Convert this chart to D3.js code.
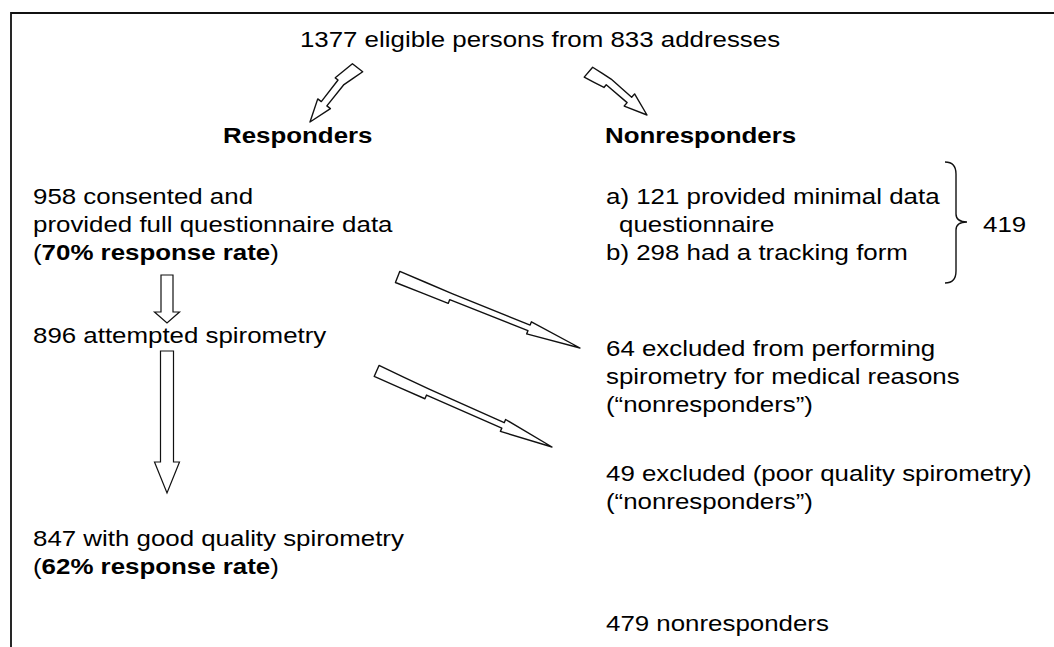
<!DOCTYPE html>
<html>
<head>
<meta charset="utf-8">
<script src="https://cdn.jsdelivr.net/npm/d3@7/dist/d3.min.js"></script>
<style>
  html, body { margin: 0; padding: 0; background: #fff; }
  svg { display: block; }
  text { font-family: "Liberation Sans", Arial, Helvetica, sans-serif; fill: #000; }
</style>
</head>
<body>
<script>
// ---------------- data ----------------
const population = [1377, 833];                 // eligible persons, addresses
const headers = ["Responders", "Nonresponders"];
const responderCounts = [958, 896, 847];        // consented, attempted spirometry, good quality
const responseRates = [70, 62];                 // % response rate
const nonresponderCounts = [121, 298, 64, 49];  // minimal data, tracking form, medical excl., poor quality
const nonresponderTotals = [419, 479];

// ---------------- layout ----------------
const W = 1054, H = 647;
const FONT = 22.5, SX = 1.15;
const rowY = d3.scaleLinear().domain([0, 1]).range([204, 232]);   // text line slots (28px)
const colX = d3.scaleOrdinal()
  .domain(["left", "right", "center", "total", "hdrL", "hdrR", "indent"])
  .range([33, 606, 540, 983, 223, 605, 619]);

const B = (t) => ({ t, b: true });
const N = (t) => ({ t, b: false });

const blocks = [
  { col: "center", row: -5.6, anchor: "middle",
    lines: [[N(`${population[0]} eligible persons from ${population[1]} addresses`)]] },
  { col: "hdrL", row: -2.18, lines: [[B(headers[0])]] },
  { col: "hdrR", row: -2.18, lines: [[B(headers[1])]] },
  { col: "left", row: 0, lines: [
      [N(`${responderCounts[0]} consented and`)],
      [N("provided full questionnaire data")],
      [N("("), B(`${responseRates[0]}% response rate`), N(")")]] },
  { col: "right", row: 0, lines: [[N(`a) ${nonresponderCounts[0]} provided minimal data`)]] },
  { col: "indent", row: 1, lines: [[N("questionnaire")]] },
  { col: "right", row: 2, lines: [[N(`b) ${nonresponderCounts[1]} had a tracking form`)]] },
  { col: "total", row: 1, lines: [[N(`${nonresponderTotals[0]}`)]] },
  { col: "left", row: 4.95, lines: [[N(`${responderCounts[1]} attempted spirometry`)]] },
  { col: "right", row: 5.43, lines: [
      [N(`${nonresponderCounts[2]} excluded from performing`)],
      [N("spirometry for medical reasons")],
      [N("(\u201cnonresponders\u201d)")]] },
  { col: "right", row: 9.89, lines: [
      [N(`${nonresponderCounts[3]} excluded (poor quality spirometry)`)],
      [N("(\u201cnonresponders\u201d)")]] },
  { col: "left", row: 12.2, lines: [
      [N(`${responderCounts[2]} with good quality spirometry`)],
      [N("("), B(`${responseRates[1]}% response rate`), N(")")]] },
  { col: "right", row: 15.25, lines: [[N(`${nonresponderTotals[1]} nonresponders`)]] }
];

// notched arrows: tail -> tip (px); bend bends the tail part sideways
const notched = [
  { tail: [354, 65], tip: [310, 122], uT: 6, s: 3.5, h: 8, lT: 7, notch: 0.3, head: 0.68, bend: -5 },
  { tail: [592, 68], tip: [647, 115], uT: 6, s: 3.5, h: 8, lT: 7, notch: 0.3, head: 0.68, bend: 5 },
  { tail: [398, 276], tip: [580, 348], uT: 5, s: 3, h: 6.5, lT: 7, notch: 0.29, head: 0.72, bend: 0 },
  { tail: [377, 370], tip: [552, 447], uT: 5, s: 3, h: 6.5, lT: 7, notch: 0.29, head: 0.72, bend: 0 }
];
// straight block arrows pointing down
const downArrows = [
  { x: 167, y0: 275, y1: 323, sw: 6, hw: 12.5, hl: 11 },
  { x: 167, y0: 351, y1: 493, sw: 6.5, hw: 12.5, hl: 31 }
];

// ---------------- drawing ----------------
const svg = d3.select("body").append("svg").attr("width", W).attr("height", H);
svg.append("rect").attr("width", W).attr("height", H).attr("fill", "#fff");

// frame (left and top border only)
svg.append("path")
  .attr("d", d3.line()([[11, H], [11, 13], [W, 13]]))
  .attr("fill", "none").attr("stroke", "#111").attr("stroke-width", 1.8);

// texts
blocks.forEach(bk => {
  bk.lines.forEach((parts, i) => {
    const g = svg.append("g")
      .attr("transform", `translate(${colX(bk.col)},${rowY(bk.row + i)}) scale(${SX},1)`);
    const t = g.append("text")
      .attr("font-size", FONT)
      .attr("text-anchor", bk.anchor || "start");
    parts.forEach(p => t.append("tspan").text(p.t).attr("font-weight", p.b ? "bold" : "normal"));
  });
});

// notched arrows
function notchedPath(a) {
  const [tx, ty] = a.tail, [px, py] = a.tip;
  const dx = px - tx, dy = py - ty, L = Math.hypot(dx, dy);
  const ux = dx / L, uy = dy / L, nx = -uy, ny = ux;
  // bend: sideways offset that fades from tail (full) to notch (zero)
  const off = (u) => u < a.notch ? a.bend * (1 - u / a.notch) : 0;
  const P = (u, v) => {
    const vv = v + off(u);
    return [tx + ux * u * L + nx * vv, ty + uy * u * L + ny * vv];
  };
  return [
    P(0, -a.uT), P(a.notch * 0.5, -a.uT * 0.85), P(a.notch, -a.s - 0.5),
    P(a.head, -a.s), P(a.head, -a.h), P(1, 0),
    P(a.head, a.h), P(a.head, a.s), P(a.notch, a.s), P(a.notch, a.lT),
    P(a.notch * 0.5, a.lT), P(0, a.lT)
  ];
}
svg.selectAll("path.notched").data(notched).join("path")
  .attr("class", "notched")
  .attr("d", d => d3.line()(notchedPath(d)) + "Z")
  .attr("fill", "#fff").attr("stroke", "#111").attr("stroke-width", 1.4)
  .attr("stroke-linejoin", "round");

// down arrows
svg.selectAll("path.down").data(downArrows).join("path")
  .attr("class", "down")
  .attr("d", d => d3.line()([
    [d.x - d.sw, d.y0], [d.x + d.sw, d.y0], [d.x + d.sw, d.y1 - d.hl], [d.x + d.hw, d.y1 - d.hl],
    [d.x, d.y1], [d.x - d.hw, d.y1 - d.hl], [d.x - d.sw, d.y1 - d.hl]
  ]) + "Z")
  .attr("fill", "#fff").attr("stroke", "#111").attr("stroke-width", 1.2);

// brace
const brace = { x0: 945, x1: 956, xp: 967, y0: 162, ym: 222, y1: 283 };
const bp = d3.path();
bp.moveTo(brace.x0, brace.y0);
bp.quadraticCurveTo(brace.x1, brace.y0, brace.x1, brace.y0 + 12);
bp.lineTo(brace.x1, brace.ym - 8);
bp.quadraticCurveTo(brace.x1, brace.ym, brace.xp, brace.ym);
bp.quadraticCurveTo(brace.x1, brace.ym, brace.x1, brace.ym + 8);
bp.lineTo(brace.x1, brace.y1 - 12);
bp.quadraticCurveTo(brace.x1, brace.y1, brace.x0, brace.y1);
svg.append("path").attr("d", bp.toString())
  .attr("fill", "none").attr("stroke", "#111").attr("stroke-width", 1.4);
</script>
</body>
</html>
